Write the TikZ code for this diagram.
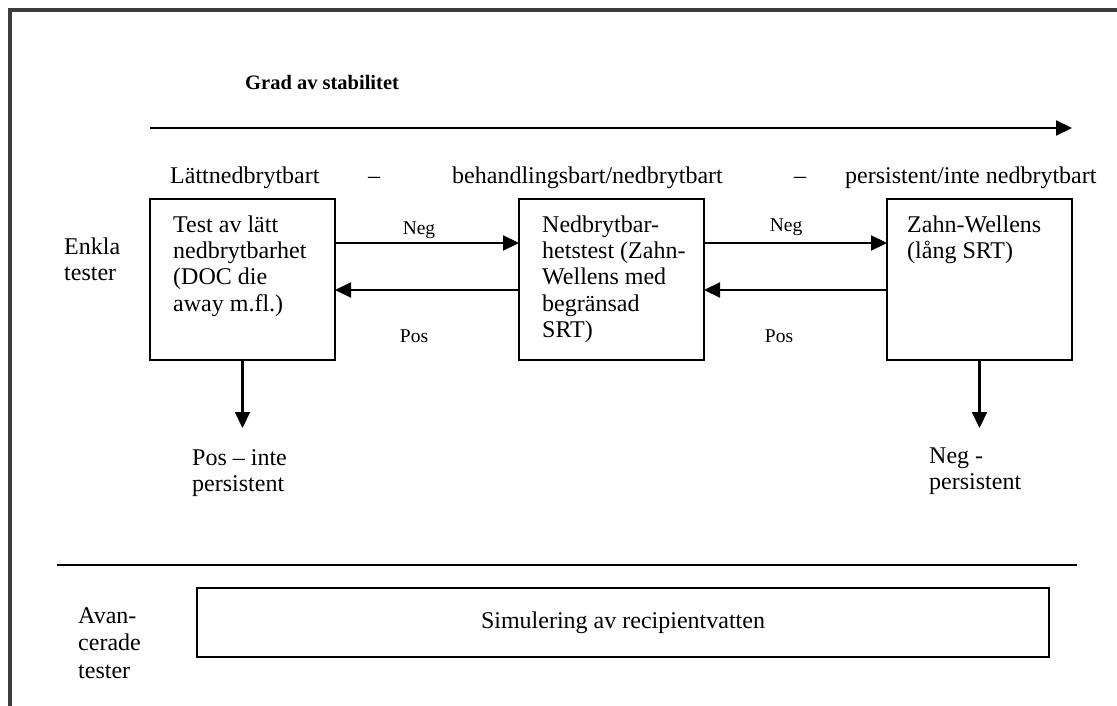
\documentclass[tikz,border=0pt]{standalone}
\usepackage{fontspec}
\setmainfont{Liberation Serif}
\usetikzlibrary{arrows.meta}
\definecolor{framegray}{RGB}{60,60,60}
\newcommand{\mlines}[1]{\vtop{\halign{##\hfil\cr#1\crcr}}}
\begin{document}
\begin{tikzpicture}[x=1pt,y=-1pt,
  txt/.style={inner sep=0pt, font=\fontsize{24}{26.5}\selectfont},
  small/.style={inner sep=0pt, font=\fontsize{19.5}{22}\selectfont},
  title/.style={inner sep=0pt, font=\fontsize{20.5}{24}\selectfont\bfseries},
  box/.style={draw, line width=2.6pt, inner sep=0pt, outer sep=0pt, anchor=north west},
  arr/.style={line width=2.2pt, -{Triangle[length=16pt,width=15pt]}},
]
\useasboundingbox (0,0) rectangle (1117,706);
\draw[line width=4pt, framegray] (10,706) -- (10,10) -- (1117,10);

% title and scale arrow
\node[title, anchor=base west] (ttl) at (245,90) {Grad av stabilitet};
\coordinate (sa) at (150,128);
\coordinate (sb) at (1072,128);
\draw[arr] (sa) -- (sb);

% scale labels
\node[txt, anchor=base west] (l1) at (170,184) {Lättnedbrytbart};
\node[txt, anchor=base] (d1) at (374,184) {–};
\node[txt, anchor=base west] (l2) at (452,184) {behandlingsbart/nedbrytbart};
\node[txt, anchor=base] (d2) at (800,184) {–};
\node[txt, anchor=base west] (l3) at (845,184) {persistent/inte nedbrytbart};

% row label
\node[txt, anchor=base west] (enk) at (64,254) {\mlines{Enkla\cr tester}};

% boxes
\node[box, minimum width=185pt, minimum height=161pt] (b1) at (150,199) {};
\node[box, minimum width=185pt, minimum height=161pt] (b2) at (519,199) {};
\node[box, minimum width=185pt, minimum height=161pt] (b3) at (887,199) {};

\node[txt, anchor=base west] (t1) at (173,232) {\mlines{Test av lätt\cr nedbrytbarhet\cr (DOC die\cr away m.fl.)}};
\node[txt, anchor=base west] (t2) at (542,232) {\mlines{Nedbrytbar-\cr hetstest (Zahn-\cr Wellens med\cr begränsad\cr SRT)}};
\node[txt, anchor=base west] (t3) at (907,232) {\mlines{Zahn-Wellens\cr (lång SRT)}};

% horizontal arrows
\coordinate (yneg) at (0,243);
\coordinate (ypos) at (0,290);
\draw[arr] (b1.east |- yneg) -- (b2.west |- yneg);
\draw[arr] (b2.east |- yneg) -- (b3.west |- yneg);
\draw[arr] (b2.west |- ypos) -- (b1.east |- ypos);
\draw[arr] (b3.west |- ypos) -- (b2.east |- ypos);

\node[small, anchor=base] (n1) at (419,234) {Neg};
\node[small, anchor=base] (n2) at (786,231) {Neg};
\node[small, anchor=base] (p1) at (414,342) {Pos};
\node[small, anchor=base] (p2) at (779,342) {Pos};

% down arrows
\coordinate (e1) at (0,428);
\draw[arr] (b1.south) -- (b1.south |- e1);
\draw[arr] (b3.south) -- (b3.south |- e1);
\node[txt, anchor=base west] (r1) at (192,465) {\mlines{Pos – inte\cr persistent}};
\node[txt, anchor=base west] (r3) at (929,463) {\mlines{Neg -\cr persistent}};

% separator
\coordinate (s1) at (57,565);
\coordinate (s2) at (1077,565);
\draw[line width=2.5pt] (s1) -- (s2);

% advanced tests
\node[txt, anchor=base west, font=\fontsize{24}{27.5}\selectfont] (av) at (78,623) {\mlines{Avan-\cr cerade\cr tester}};
\node[box, minimum width=852pt, minimum height=69pt] (b4) at (197,588) {};
\node[txt] (t4) at (b4.center) {Simulering av recipientvatten};
\end{tikzpicture}
\end{document}
